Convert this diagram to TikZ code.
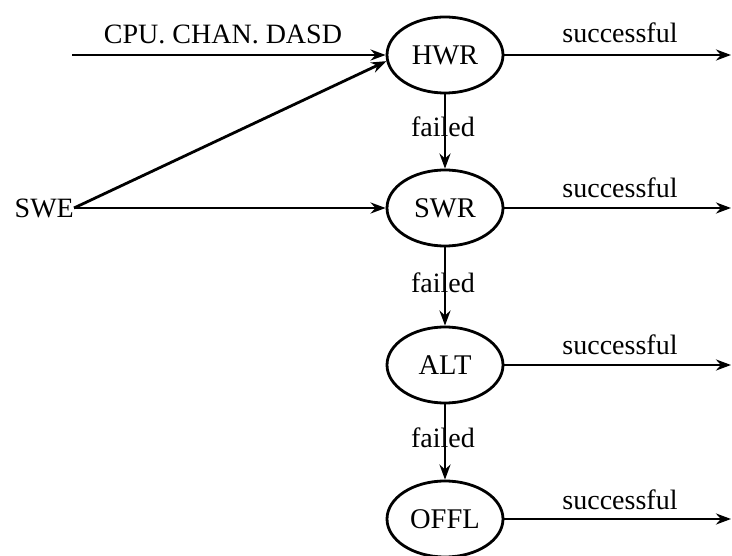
\documentclass[tikz,border=0pt]{standalone}
\usepackage{fontspec}
\setmainfont{Liberation Serif}
\usetikzlibrary{arrows.meta,shapes.geometric}
\begin{document}
\begin{tikzpicture}[x=1pt,y=-1pt,
  state/.style={draw,ellipse,line width=2.8pt,minimum width=116pt,minimum height=76pt,inner sep=0pt,font=\fontsize{28.5}{30}\selectfont},
  lbl/.style={inner sep=0pt,font=\fontsize{28}{30}\selectfont},
  conn/.style={line width=2.8pt,-{Stealth[length=15pt,width=11pt]}}]
\useasboundingbox (0,0) rectangle (732,556);
\node[state] (HWR) at (445,55) {HWR};
\node[state] (SWR) at (445,208) {SWR};
\node[state] (ALT) at (445,365) {ALT};
\node[state] (OFFL) at (445,519) {OFFL};
\node[lbl,anchor=east] (SWE) at (74,208) {SWE};
\coordinate (in) at (72,55);
\coordinate (o1) at (731,55);
\coordinate (o2) at (731,208);
\coordinate (o3) at (731,365);
\coordinate (o4) at (731,519);
\node[lbl] (lcpu) at (223,34) {CPU. CHAN. DASD};
\node[lbl] (s1) at (620,33) {successful};
\node[lbl] (s2) at (620,188) {successful};
\node[lbl] (s3) at (620,345) {successful};
\node[lbl] (s4) at (620,500) {successful};
\node[lbl] (f1) at (443,127) {failed};
\node[lbl] (f2) at (443,283) {failed};
\node[lbl] (f3) at (443,438) {failed};
\draw[conn] (in) -- (HWR.west);
\draw[conn] (SWE.east) -- (HWR.186);
\draw[conn] (SWE.east) -- (SWR.west);
\draw[conn] (HWR.south) -- (SWR.north);
\draw[conn] (SWR.south) -- (ALT.north);
\draw[conn] (ALT.south) -- (OFFL.north);
\draw[conn] (HWR.east) -- (o1);
\draw[conn] (SWR.east) -- (o2);
\draw[conn] (ALT.east) -- (o3);
\draw[conn] (OFFL.east) -- (o4);
\end{tikzpicture}
\end{document}
